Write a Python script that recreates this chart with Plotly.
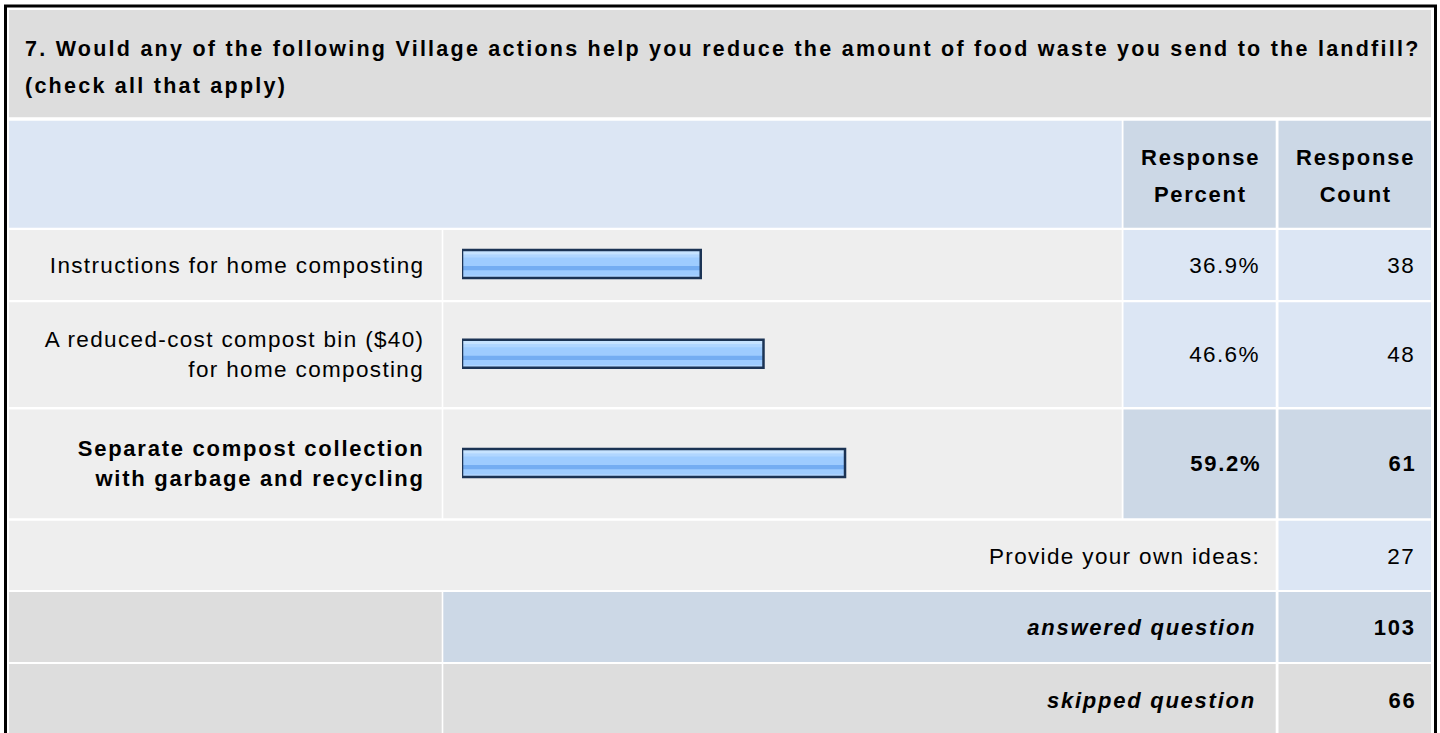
import json
import plotly.graph_objects as go

# ---------------- data ----------------
question = "7. Would any of the following Village actions help you reduce the amount of food waste you send to the landfill?"
question_note = "(check all that apply)"
answer_lines = [
    ["Instructions for home composting"],
    ["A reduced-cost compost bin ($40)", "for home composting"],
    ["Separate compost collection", "with garbage and recycling"],
]
response_percent = [36.9, 46.6, 59.2]
response_count = [38, 48, 61]
header_cols = [["Response", "Percent"], ["Response", "Count"]]
other_label = "Provide your own ideas:"
other_count = 27
answered_label = "answered question"
answered_count = 103
skipped_label = "skipped question"
skipped_count = 66

# ---------------- layout geometry (pixels) ----------------
W, H = 1440, 733
LBL = (9, 441.7)
BAR = (443.3, 1121.7)
PCT = (1123.5, 1275.7)
CNT = (1278.5, 1431)
TITLE = (10, 117.3)
HEAD = (120.7, 227.7)
ROWS = [(230, 300), (302.3, 407), (409.5, 518.3)]
OTHER = (520.7, 590)
ANS = (592, 662)
SKIP = (664, 736)

C_TITLE = "#DDDDDD"
C_HEAD = "#DCE6F4"
C_HEAD_DARK = "#CCD8E6"
C_ROW = "#EEEEEE"
C_VAL = "#DCE6F4"
C_VAL_DARK = "#CCD8E6"
C_GRAY = "#DDDDDD"

FONT = "Liberation Sans, Arial, Helvetica, sans-serif"
REG, BOLD, TSIZE = 22.5, 22, 21.5
SP_REG, SP_BOLD, SP_TITLE = 1.35, 1.75, 2.25

top = response_percent.index(max(response_percent))

shapes = []


def cell(x, y, color):
    shapes.append(dict(type="rect", xref="x", yref="y", x0=x[0], x1=x[1], y0=y[0], y1=y[1],
                       fillcolor=color, line=dict(width=0), layer="below"))


cell((LBL[0], CNT[1]), TITLE, C_TITLE)
cell((LBL[0], BAR[1]), HEAD, C_HEAD)
cell(PCT, HEAD, C_HEAD_DARK)
cell(CNT, HEAD, C_HEAD_DARK)
for i, r in enumerate(ROWS):
    cell(LBL, r, C_ROW)
    cell(BAR, r, C_ROW)
    vc = C_VAL_DARK if i == top else C_VAL
    cell(PCT, r, vc)
    cell(CNT, r, vc)
cell((LBL[0], PCT[1]), OTHER, C_ROW)
cell(CNT, OTHER, C_VAL)
cell(LBL, ANS, C_GRAY)
cell((BAR[0], PCT[1]), ANS, C_HEAD_DARK)
cell(CNT, ANS, C_HEAD_DARK)
cell(LBL, (SKIP[0], 745), C_GRAY)
cell((BAR[0], PCT[1]), (SKIP[0], 745), C_GRAY)
cell(CNT, (SKIP[0], 745), C_GRAY)

# outer frame
shapes.append(dict(type="rect", xref="x", yref="y", x0=5.5, x1=1435.5, y0=6, y1=760,
                   line=dict(color="#000000", width=3), fillcolor="rgba(0,0,0,0)", layer="above"))

annotations = []
spacing = []


def text(x, y, s, size, sp, anchor="right", bold=False, italic=False):
    t = s
    if italic:
        t = "<i>" + t + "</i>"
    if bold:
        t = "<b>" + t + "</b>"
    dx = {"right": sp, "center": sp / 2, "left": 0}[anchor]
    annotations.append(dict(x=x + dx, y=y, xref="x", yref="y", text=t, showarrow=False,
                            xanchor=anchor, yanchor="middle", align=anchor,
                            borderpad=0, borderwidth=0,
                            font=dict(family=FONT, size=size, color="#000000")))
    spacing.append(sp)


def mid(r):
    return (r[0] + r[1]) / 2


# title
text(25, 48.5, question, TSIZE, SP_TITLE, anchor="left", bold=True)
text(25, 86, question_note, TSIZE, SP_TITLE, anchor="left", bold=True)

# header
hc = mid(HEAD) + 2
for col, lines in zip([PCT, CNT], header_cols):
    text(mid(col), hc - 18.5, lines[0], BOLD, SP_BOLD, anchor="center", bold=True)
    text(mid(col), hc + 18.5, lines[1], BOLD, SP_BOLD, anchor="center", bold=True)

LBL_RX = 423
PCT_RX = 1259
CNT_RX = 1414
for i, r in enumerate(ROWS):
    b = i == top
    size = BOLD if b else REG
    sp = SP_BOLD if b else SP_REG
    c = mid(r)
    lines = answer_lines[i]
    n = len(lines)
    for k, ln in enumerate(lines):
        y = c + (k - (n - 1) / 2) * 30
        text(LBL_RX, y, ln, size, sp, bold=b)
    text(PCT_RX, c, f"{response_percent[i]:.1f}%", size, sp, bold=b)
    text(CNT_RX, c, str(response_count[i]), size, sp, bold=b)

text(PCT_RX, mid(OTHER) + 1, other_label, REG, SP_REG)
text(CNT_RX, mid(OTHER) + 1, str(other_count), REG, SP_REG)
text(1254, mid(ANS), answered_label, BOLD, SP_BOLD, bold=True, italic=True)
text(CNT_RX, mid(ANS), str(answered_count), BOLD, SP_BOLD, bold=True)
text(1254, mid(SKIP), skipped_label, BOLD, SP_BOLD, bold=True, italic=True)
text(CNT_RX, mid(SKIP), str(skipped_count), BOLD, SP_BOLD, bold=True)

# ---------------- bars ----------------
bar_y = [mid(r) - 1 for r in ROWS]
fig = go.Figure()
bands = [
    (-14, 28, "#9ECCFF"),
    (-14, 4.8, "#C6E3FF"),
    (-9.2, 2.8, "#B0D6FF"),
    (2, 4.3, "#74ADF2"),
    (11.4, 2.6, "#B0D6FF"),
]
for off, wd, col in bands:
    fig.add_trace(go.Bar(x=response_percent, y=bar_y, orientation="h", xaxis="x2", yaxis="y",
                         offset=off, width=wd, base=0,
                         marker=dict(color=col, line=dict(width=0)),
                         hoverinfo="skip", showlegend=False))
fig.add_trace(go.Bar(x=response_percent, y=bar_y, orientation="h", xaxis="x2", yaxis="y",
                     offset=-14, width=28, base=0,
                     marker=dict(color="rgba(0,0,0,0)", line=dict(color="#1B3354", width=2.5)),
                     hoverinfo="skip", showlegend=False))

fig.update_layout(
    width=W, height=H,
    margin=dict(l=0, r=0, t=0, b=0, pad=0),
    paper_bgcolor="#FFFFFF", plot_bgcolor="rgba(0,0,0,0)",
    barmode="overlay",
    xaxis=dict(range=[0, W], visible=False, domain=[0, 1]),
    xaxis2=dict(range=[0, 100], visible=False, domain=[462 / W, 1109 / W], anchor="y"),
    yaxis=dict(range=[H, 0], visible=False, domain=[0, 1]),
    shapes=shapes,
    annotations=annotations,
    showlegend=False,
)

post = """
document.body.style.margin = '0';
document.body.style.overflow = 'hidden';
var gd = document.getElementById('{plot_id}');
var sp = %s;
gd.querySelectorAll('g.annotation').forEach(function(g){
  var i = +g.getAttribute('data-index');
  var t = g.querySelector('text.annotation-text');
  if (t && sp[i]) { t.style.letterSpacing = sp[i] + 'px'; }
});
""" % json.dumps(spacing)

fig.write_html("out.html", post_script=post, config={"displayModeBar": False})
